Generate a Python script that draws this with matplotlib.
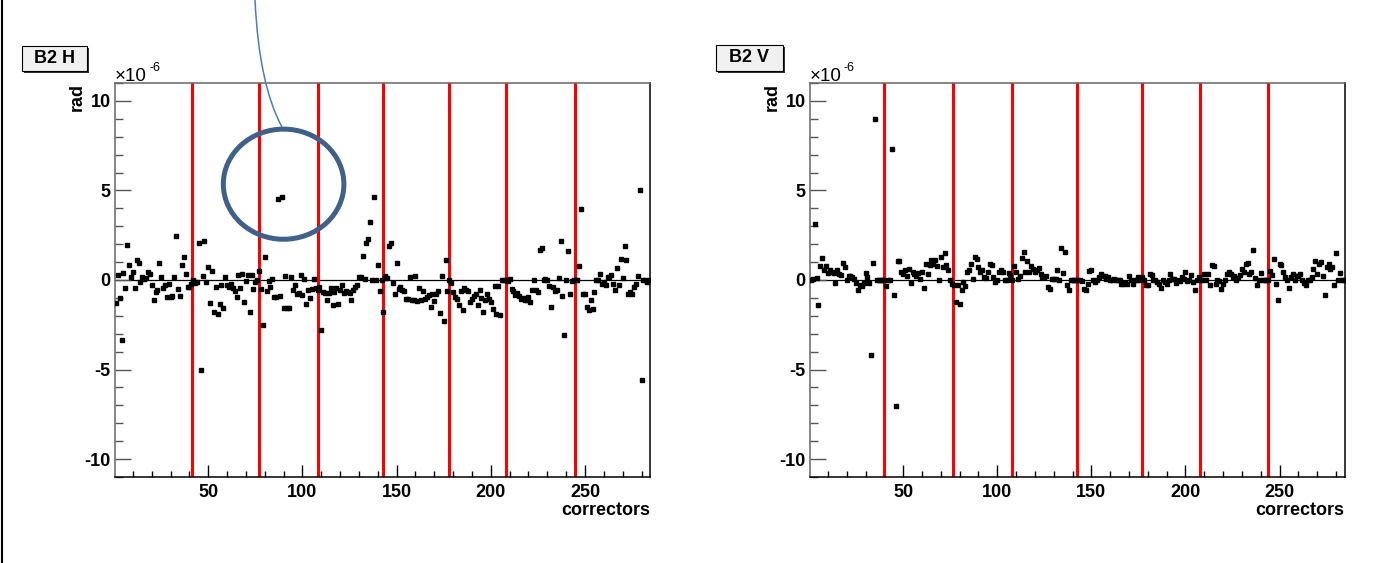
import matplotlib
matplotlib.use("Agg")
import matplotlib.pyplot as plt
from matplotlib.patches import Ellipse, Rectangle, PathPatch
from matplotlib.path import Path
from matplotlib.ticker import MultipleLocator

plt.rcParams['font.family'] = ['Liberation Sans', 'DejaVu Sans']
plt.rcParams['axes.unicode_minus'] = False

# corrector index 1..284
correctors = list(range(1, 285))

# B2 H kicks (x1e-6 rad)
b2h = [
    -1.27, 0.28, -1.03, -3.33, 0.41, -0.47, 1.97, 0.84, 0.19, 0.47,
    -0.47, 1.09, 0.94, -0.09, 0.19, 0.04, 0.09, 0.47, 0.34, -0.28,
    -1.09, -0.66, -0.56, 0.94, 0.19, -0.47, -0.28, -0.94, -0.24, -0.94,
    -0.90, 0.19, 2.47, -0.50, -0.90, 0.84, 1.27, 0.34, -0.37, -0.37,
    -0.20, 0.00, -0.19, -0.09, 2.06, -5.00, 0.22, 2.15, -0.09, 0.75,
    -1.31, 0.52, -1.78, -0.37, -1.91, -1.35, -0.28, -1.59, 0.15, -0.28,
    -0.37, -0.22, -0.47, -0.60, -0.97, 0.28, -0.47, 0.34, -1.22, -0.04,
    0.28, -1.78, 0.28, -0.52, -0.09, 0.00, 0.52, -0.52, -2.53, 1.27,
    -0.60, -0.04, -0.41, 0.04, -0.94, -0.94, 4.52, -0.90, 4.66, -1.54,
    0.22, -1.59, -1.54, 0.19, -0.56, -0.28, -0.79, -0.75, 0.28, -0.84,
    0.04, -1.35, -0.56, -1.03, -0.52, 0.04, -0.47, -0.56, -0.40, -2.77,
    -0.66, -0.75, -1.12, -0.71, -0.47, -1.40, -0.66, -0.47, -1.35, -0.56,
    -0.28, -0.75, -0.60, -0.66, -0.71, -1.12, -0.56, -0.37, -0.30, 0.19,
    0.15, 1.35, 0.04, 2.06, 2.28, 3.26, 0.00, 4.66, 0.00, 0.82,
    -0.62, 0.00, -1.80, 0.20, 0.10, 1.90, 2.08, -0.17, -0.80, 0.96,
    -0.50, -0.40, -0.55, -0.62, -1.05, -1.05, 0.17, -1.10, -1.14, 0.21,
    -1.20, -0.43, -1.10, -0.62, -1.05, -0.95, -0.86, -1.48, -0.80, -1.18,
    -0.80, -0.62, -1.85, 0.20, -2.30, 1.14, -0.62, 0.00, -0.17, -0.67,
    -0.95, -1.05, -1.42, -0.62, -1.70, -0.43, -0.54, -0.62, -1.23, -1.05,
    -0.90, -0.77, -1.37, -0.58, -1.00, -1.80, -1.14, -0.80, -1.05, -1.23,
    -1.61, -0.35, -1.89, -0.35, -1.98, 0.00, 0.00, 0.02, -0.04, 0.08,
    -0.49, -0.62, -0.86, -0.73, -0.92, -1.05, -1.01, -1.10, -1.14, -0.95,
    -1.23, -0.58, 0.00, -0.54, -0.67, 1.67, 1.76, 0.00, 0.08, 0.02,
    -0.35, -1.48, -0.39, -0.62, -0.58, 0.10, 2.19, -0.92, -3.05, 0.02,
    1.63, -0.77, -0.05, 0.02, 0.00, 0.02, 0.77, 3.96, -0.77, -0.77,
    -1.48, -1.70, -1.14, -1.60, -0.67, 0.02, 0.00, 0.36, -0.20, -0.10,
    -0.30, 0.17, 0.17, 0.26, -0.20, -0.58, 0.69, -0.30, 1.20, 0.10,
    1.90, 1.14, -0.77, -0.67, -0.80, -0.40, -0.25, 0.20, 5.04, -5.60,
    0.00, 0.00, -0.10, 0.00,
]

# B2 V kicks (x1e-6 rad)
b2v = [
    0.02, 0.07, 3.10, 0.10, -1.42, 0.77, 1.25, 0.54, 0.77, 0.39,
    0.54, 0.45, 0.39, -0.15, 0.54, 0.36, 0.30, 0.96, 0.73, 0.00,
    0.20, 0.20, 0.17, 0.07, -0.17, -0.54, -0.30, -0.36, -0.17, 0.39,
    0.17, -0.17, -4.16, 0.95, 8.97, 0.02, 0.02, 0.02, 0.00, 0.00,
    -0.35, 0.00, 0.00, 7.32, -0.86, -7.04, 1.07, 1.07, 0.45, 0.36,
    0.54, 0.20, 0.64, -0.17, 0.45, 0.36, 0.20, 0.39, 0.07, 0.45,
    -0.43, 0.92, 0.36, 0.82, 1.10, 0.92, 1.10, 0.77, 0.00, 1.29,
    0.73, 1.48, 0.82, 0.54, 0.02, -0.20, -0.30, -1.24, -0.30, -1.33,
    -0.58, -0.11, -0.36, 0.45, 0.54, 0.92, 0.07, 1.29, 1.20, 0.73,
    0.45, 0.54, 0.17, 0.10, 0.45, 0.88, 0.82, 0.17, -0.11, 0.00,
    0.45, 0.54, 0.45, 0.00, 0.00, 0.39, 0.26, 0.00, 0.77, 0.45,
    0.07, 0.20, 1.25, 1.57, 0.45, 1.07, 0.45, 0.77, 0.64, 0.45,
    0.58, 0.69, 0.36, 0.17, 0.17, 0.20, -0.39, -0.49, 0.07, 0.07,
    0.07, 0.54, 0.02, 1.76, 0.39, 1.54, -0.30, -0.58, 0.00, 0.02,
    0.02, 0.00, 0.00, 0.02, -0.05, -0.49, -0.54, -0.24, 0.51, 0.54,
    0.02, -0.11, -0.02, 0.17, 0.32, 0.21, 0.21, 0.08, 0.17, -0.02,
    0.02, 0.08, 0.02, 0.02, 0.02, -0.20, -0.20, -0.17, -0.20, 0.21,
    -0.02, -0.20, 0.02, -0.02, 0.17, -0.02, 0.17, 0.02, -0.30, -0.30,
    0.32, 0.26, -0.02, 0.02, -0.11, -0.20, -0.43, -0.02, -0.11, -0.24,
    -0.02, 0.32, 0.08, 0.08, -0.17, 0.02, -0.05, 0.17, 0.08, 0.45,
    -0.05, 0.02, 0.26, -0.11, -0.58, -0.02, 0.17, 0.00, -0.02, 0.32,
    -0.02, 0.36, -0.30, 0.83, 0.77, -0.20, 0.02, -0.05, -0.49, -0.24,
    -0.02, 0.36, 0.45, 0.36, 0.17, 0.21, 0.02, 0.11, 0.26, 0.64,
    0.45, 0.92, 0.96, 0.36, 0.45, 1.70, 0.10, -0.30, 0.02, 0.39,
    -0.02, -0.02, -0.02, 0.00, 0.51, 0.30, 1.20, -0.20, -1.14, 0.92,
    0.83, 0.45, 0.17, 0.02, -0.43, 0.17, 0.36, 0.02, 0.21, 0.21,
    0.36, 0.02, -0.17, -0.30, -0.02, 0.02, 0.17, 0.64, 1.07, 0.36,
    0.92, 1.01, 0.20, -0.86, 0.73, 0.92, 0.64, 0.73, -0.30, 1.52,
    -0.02, 0.39, -0.02, 0.00,
]

# red separator positions (corrector number)
h_lines = [41.2, 77.0, 108.0, 143.0, 178.0, 208.3, 244.5]
v_lines = [39.7, 76.7, 107.6, 142.5, 176.7, 207.8, 243.6]

W, H = 1383, 563
fig = plt.figure(figsize=(W / 100, H / 100), dpi=100)


def fx(px):
    return px / W


def fy(py):
    return 1 - py / H


def make_panel(left, right, vals, lines, title, box):
    ax = fig.add_axes([fx(left), fy(477), fx(right) - fx(left), fy(83) - fy(477)])
    ax.set_xlim(0.5, 284.5)
    ax.set_ylim(-11, 11)
    ax.axhline(0, color='black', lw=0.9, zorder=1)
    for xv in lines:
        ax.axvline(xv, color='#ff0000', lw=2.2, zorder=2)
    ax.plot(correctors, vals, 's', color='black', markersize=2.8, zorder=3)

    ax.xaxis.set_major_locator(MultipleLocator(50))
    ax.xaxis.set_minor_locator(MultipleLocator(10))
    ax.yaxis.set_major_locator(MultipleLocator(5))
    ax.yaxis.set_minor_locator(MultipleLocator(1))
    ax.tick_params(axis='y', which='major', direction='in', length=11.5, width=1,
                   color='#555555', labelsize=13, pad=3)
    ax.tick_params(axis='y', which='minor', direction='in', length=5.8, width=1,
                   color='#555555')
    ax.tick_params(axis='x', which='major', direction='in', length=8.5, width=1,
                   labelsize=13, pad=5)
    ax.tick_params(axis='x', which='minor', direction='in', length=4.3, width=1)
    for lab in ax.get_xticklabels() + ax.get_yticklabels():
        lab.set_fontweight('bold')
    ax.spines['left'].set_color('#666666')
    ax.spines['top'].set_color('#666666')
    for s in ax.spines.values():
        s.set_linewidth(1.1)

    ax.text(-0.071, 1.0, 'rad', transform=ax.transAxes, rotation=90, ha='center',
            va='top', fontsize=13, fontweight='bold')
    ax.text(1.0, -0.085, 'correctors', transform=ax.transAxes, ha='right',
            va='center', fontsize=13, fontweight='bold')
    fig.text(fx(left), fy(81), '\u00d710', ha='left', va='baseline', fontsize=13.5)
    fig.text(fx(left + 34), fy(71), '-6', ha='left', va='baseline', fontsize=9)

    x0, y0, x1, y1 = box
    fig.patches.append(Rectangle((fx(x0 + 2), fy(y1 + 2)), fx(x1 - x0), fy(y0) - fy(y1),
                                 transform=fig.transFigure, facecolor='#333333',
                                 edgecolor='none', zorder=1))
    fig.patches.append(Rectangle((fx(x0), fy(y1)), fx(x1 - x0), fy(y0) - fy(y1),
                                 transform=fig.transFigure, facecolor='#f0f0f0',
                                 edgecolor='black', lw=0.8, zorder=2))
    fig.text(fx((x0 + x1) / 2), fy((y0 + y1) / 2), title, ha='center', va='center',
             fontsize=13, fontweight='bold', zorder=3)
    return ax


axh = make_panel(115, 650, b2h, h_lines, 'B2 H', (22, 46, 87, 71))
axv = make_panel(810, 1344.5, b2v, v_lines, 'B2 V', (716, 45, 783, 71))

# highlight circle around the two outliers in B2 H
axh.add_patch(Ellipse((90, 5.35), 64, 6.15, fill=False, edgecolor='#40608c',
                      lw=3.6, clip_on=False, zorder=5))
curve = Path([(fx(255), fy(0)), (fx(259), fy(85)), (fx(282), fy(127))],
             [Path.MOVETO, Path.CURVE3, Path.CURVE3])
fig.patches.append(PathPatch(curve, transform=fig.transFigure, fill=False,
                             edgecolor='#4a7ebb', lw=1.1))

# canvas border on the left
fig.lines.append(plt.Line2D([fx(1.5), fx(1.5)], [0, 1], transform=fig.transFigure,
                            color='black', lw=1.5))

fig.savefig('out.png', dpi=100)
